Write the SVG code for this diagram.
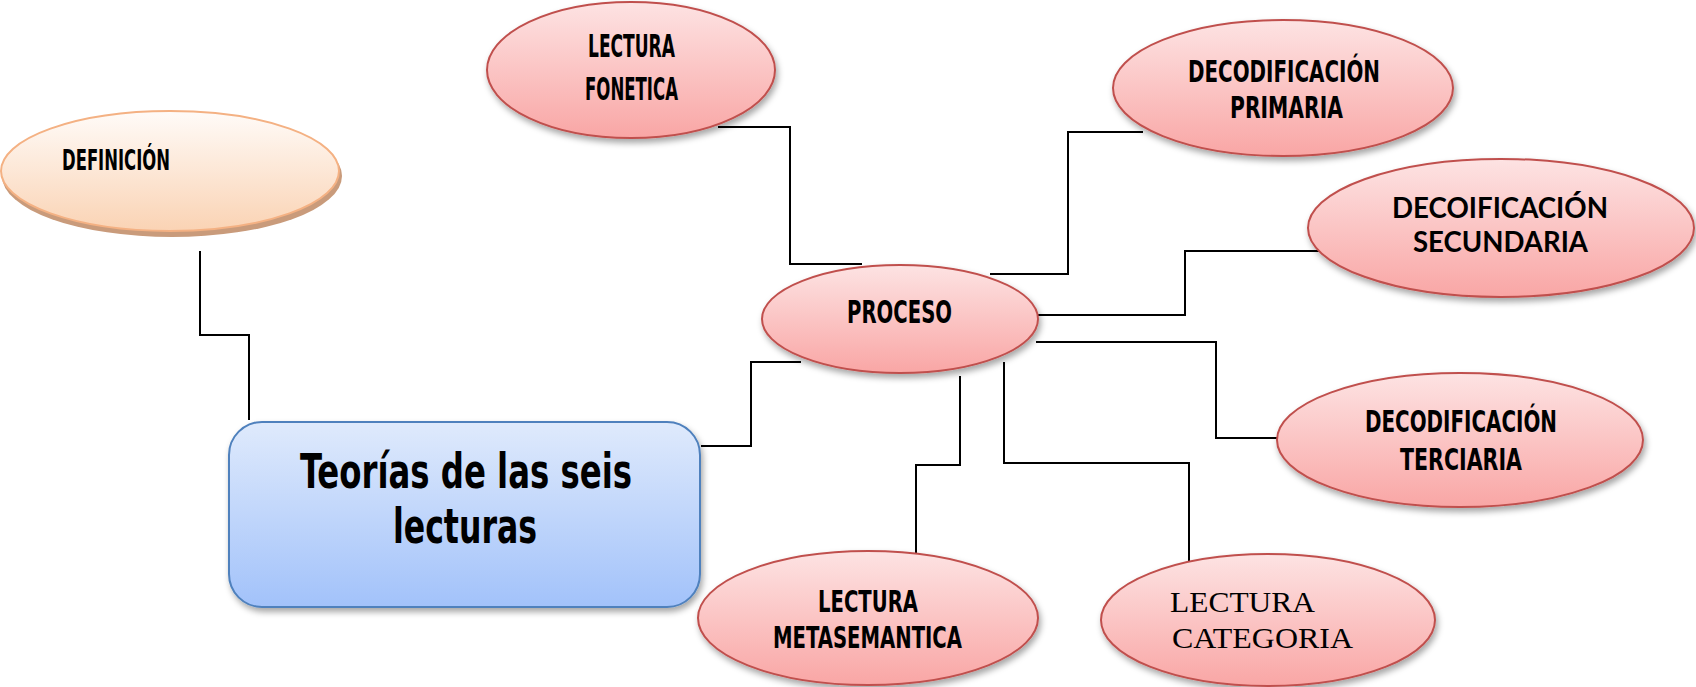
<svg xmlns="http://www.w3.org/2000/svg" width="1696" height="687" viewBox="0 0 1696 687">
<defs>
<linearGradient id="gPink" x1="0" y1="0" x2="0" y2="1">
<stop offset="0" stop-color="#fde3e3"/>
<stop offset="1" stop-color="#f9a6a5"/>
</linearGradient>
<linearGradient id="gPeach" x1="0" y1="0" x2="0" y2="1">
<stop offset="0" stop-color="#fffbf8"/>
<stop offset="1" stop-color="#fad3b4"/>
</linearGradient>
<linearGradient id="gBlue" x1="0" y1="0" x2="0" y2="1">
<stop offset="0" stop-color="#dfeafc"/>
<stop offset="1" stop-color="#a2c2fa"/>
</linearGradient>
<filter id="sh" x="-10%" y="-10%" width="120%" height="130%">
<feDropShadow dx="2" dy="4" stdDeviation="3" flood-color="#000" flood-opacity="0.35"/>
</filter>
</defs>
<style>
.pink{fill:url(#gPink);stroke:#c0504d;stroke-width:2;filter:url(#sh)}
.cond{font-family:"Liberation Sans Narrow","DejaVu Sans Condensed","Liberation Sans",sans-serif;font-weight:bold;fill:#000}
.sans{font-family:Lato,"Liberation Sans",sans-serif;font-weight:bold;fill:#000}
.serif{font-family:"Liberation Serif","Times New Roman",serif;fill:#000}
.conn{fill:none;stroke:#000;stroke-width:2}
</style>
<rect width="1696" height="687" fill="#fff"/>

<g id="connectors">
<polyline class="conn" points="200,251 200,335 249,335 249,420"/>
<polyline class="conn" points="701,446 751,446 751,362 801,362"/>
<polyline class="conn" points="718,127 790,127 790,264 862,264"/>
<polyline class="conn" points="990,274 1068,274 1068,132 1143,132"/>
<polyline class="conn" points="1036,315 1185,315 1185,251 1333,251"/>
<polyline class="conn" points="1036,342 1216,342 1216,438 1277,438"/>
<polyline class="conn" points="960,376 960,465 916,465 916,554"/>
<polyline class="conn" points="1004,362 1004,463 1189,463 1189,562"/>
</g>

<g id="definicion">
<ellipse cx="172" cy="176" rx="170" ry="61" fill="#c99b7b"/>
<ellipse cx="170" cy="171" rx="169" ry="60" fill="url(#gPeach)" stroke="#f4b183" stroke-width="2"/>
<text class="cond" x="62" y="170" font-size="28" textLength="108" lengthAdjust="spacingAndGlyphs">DEFINICIÓN</text>
</g>

<g id="teorias">
<rect x="229" y="422" width="471" height="185" rx="33" fill="url(#gBlue)" stroke="#4f81bd" stroke-width="2" filter="url(#sh)"/>
<text class="cond" x="300" y="488" font-size="48" textLength="332" lengthAdjust="spacingAndGlyphs">Teorías de las seis</text>
<text class="cond" x="393" y="543" font-size="48" textLength="144" lengthAdjust="spacingAndGlyphs">lecturas</text>
</g>

<g id="fonetica">
<ellipse class="pink" cx="631" cy="70" rx="144" ry="68"/>
<text class="cond" x="588" y="57" font-size="32" textLength="87" lengthAdjust="spacingAndGlyphs">LECTURA</text>
<text class="cond" x="585" y="100" font-size="32" textLength="93" lengthAdjust="spacingAndGlyphs">FONETICA</text>
</g>

<g id="proceso">
<ellipse class="pink" cx="900" cy="319" rx="138" ry="54"/>
<text class="cond" x="847" y="323" font-size="32" textLength="105" lengthAdjust="spacingAndGlyphs">PROCESO</text>
</g>

<g id="primaria">
<ellipse class="pink" cx="1283" cy="88" rx="170" ry="68"/>
<text class="cond" x="1188" y="82" font-size="30" textLength="192" lengthAdjust="spacingAndGlyphs">DECODIFICACIÓN</text>
<text class="cond" x="1230" y="118" font-size="30" textLength="113" lengthAdjust="spacingAndGlyphs">PRIMARIA</text>
</g>

<g id="secundaria">
<ellipse class="pink" cx="1501" cy="228" rx="193" ry="69"/>
<text class="sans" x="1392" y="218" font-size="28" textLength="216" lengthAdjust="spacingAndGlyphs">DECOIFICACIÓN</text>
<text class="sans" x="1413" y="252" font-size="28" textLength="175" lengthAdjust="spacingAndGlyphs">SECUNDARIA</text>
</g>

<g id="terciaria">
<ellipse class="pink" cx="1460" cy="440" rx="183" ry="67"/>
<text class="cond" x="1365" y="432" font-size="31" textLength="192" lengthAdjust="spacingAndGlyphs">DECODIFICACIÓN</text>
<text class="cond" x="1400" y="470" font-size="31" textLength="122" lengthAdjust="spacingAndGlyphs">TERCIARIA</text>
</g>

<g id="metasemantica">
<ellipse class="pink" cx="868" cy="618" rx="170" ry="67"/>
<text class="cond" x="818" y="612" font-size="30" textLength="100" lengthAdjust="spacingAndGlyphs">LECTURA</text>
<text class="cond" x="773" y="648" font-size="30" textLength="189" lengthAdjust="spacingAndGlyphs">METASEMANTICA</text>
</g>

<g id="categoria">
<ellipse class="pink" cx="1268" cy="620" rx="167" ry="66"/>
<text class="serif" x="1170" y="612" font-size="30" textLength="145" lengthAdjust="spacingAndGlyphs">LECTURA</text>
<text class="serif" x="1172" y="648" font-size="30" textLength="181" lengthAdjust="spacingAndGlyphs">CATEGORIA</text>
</g>
</svg>
